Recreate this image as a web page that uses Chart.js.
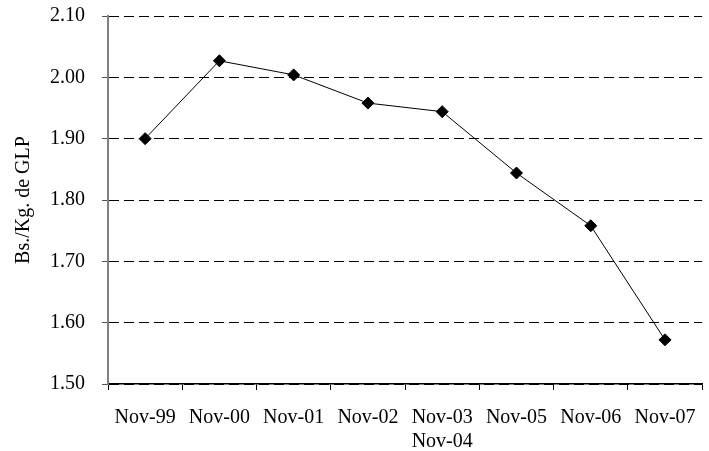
<!DOCTYPE html>
<html>
<head>
<meta charset="utf-8">
<script src="https://cdn.jsdelivr.net/npm/chart.js@4/dist/chart.umd.min.js"></script>
<style>
  html, body { margin: 0; padding: 0; background: #fff; overflow: hidden; }
  #wrap { position: relative; width: 712px; height: 451px; }
</style>
</head>
<body>
<div id="wrap"><canvas id="chart"></canvas></div>
<script>
// Precio del GLP (Bs. por kilogramo), noviembre de cada año
const categories = ['Nov-99', 'Nov-00', 'Nov-01', 'Nov-02', ['Nov-03', 'Nov-04'], 'Nov-05', 'Nov-06', 'Nov-07'];
const precios = [1.900, 2.027, 2.004, 1.958, 1.944, 1.844, 1.758, 1.572];
const yMin = 1.50;
const yMax = 2.10;
const yStep = 0.10;
const yTitle = 'Bs./Kg. de GLP';

const serif = "'Liberation Serif', 'Times New Roman', serif";
Chart.defaults.font.family = serif;
Chart.defaults.font.size = 20;
Chart.defaults.color = '#000';

new Chart(document.getElementById('chart'), {
  type: 'line',
  data: {
    labels: categories,
    datasets: [{
      data: precios,
      borderColor: '#000',
      borderWidth: 1,
      tension: 0,
      pointStyle: 'rectRot',
      pointRadius: 6,
      pointBackgroundColor: '#000',
      pointBorderColor: '#000',
      pointBorderWidth: 1
    }]
  },
  options: {
    responsive: true,
    maintainAspectRatio: false,
    animation: false,
    layout: { padding: 0 },
    plugins: {
      legend: { display: false },
      tooltip: { enabled: false }
    },
    scales: {
      x: {
        type: 'category',
        offset: true,
        grid: {
          offset: true,
          drawOnChartArea: false,
          drawTicks: true,
          tickLength: 6,
          tickColor: '#000',
          tickWidth: 1
        },
        border: { display: true, color: '#000', width: 1.5 },
        ticks: {
          autoSkip: false,
          maxRotation: 0,
          minRotation: 0,
          padding: 16,
          color: '#000',
          font: { family: serif, size: 20 }
        },
        afterFit: (scale) => { scale.height = 67; }
      },
      y: {
        min: yMin,
        max: yMax,
        grid: {
          color: '#000',
          lineWidth: 1,
          drawTicks: true,
          tickLength: 6,
          tickColor: '#555',
          tickWidth: 1
        },
        border: { display: true, color: '#808080', width: 2, dash: [10, 5] },
        ticks: {
          stepSize: yStep,
          padding: 17,
          color: '#000',
          font: { family: serif, size: 20 },
          callback: (v) => Number(v).toFixed(2)
        },
        title: {
          display: true,
          text: yTitle,
          color: '#000',
          font: { family: serif, size: 20 },
          padding: { top: 12, bottom: 0 }
        },
        afterFit: (scale) => {
          scale.width = 108;
          scale.paddingTop = 16;
          scale.paddingBottom = 0;
        }
      }
    }
  }
});
</script>
</body>
</html>
